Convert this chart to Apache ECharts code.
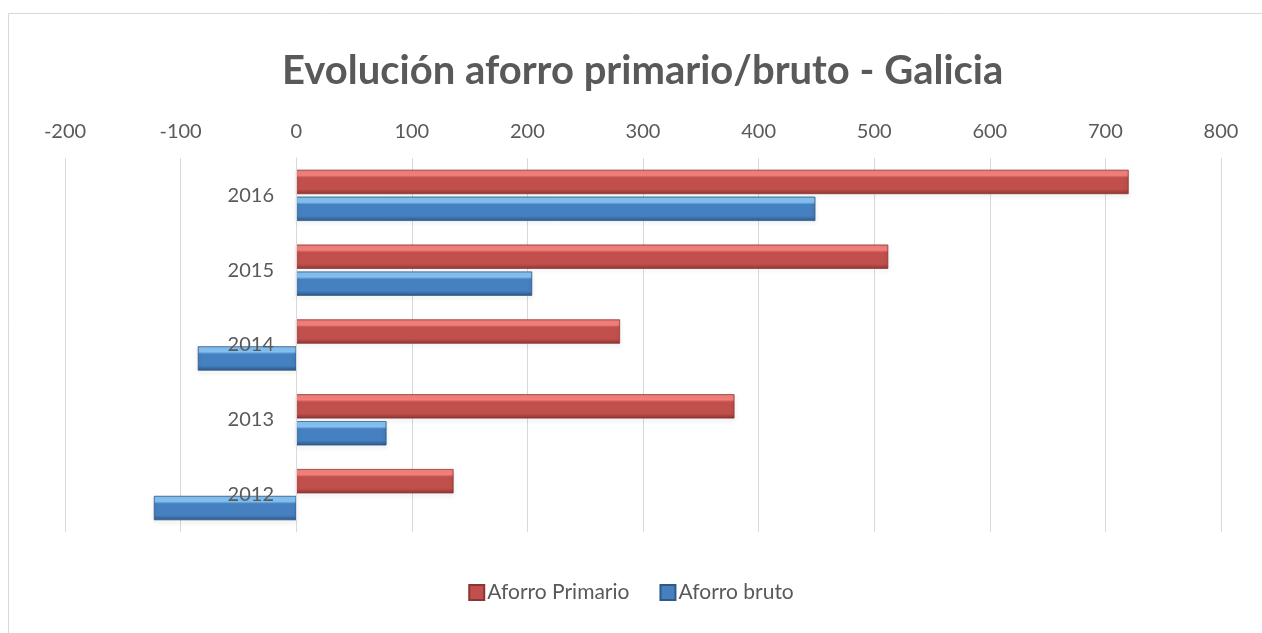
<!DOCTYPE html>
<html>
<head>
<meta charset="utf-8">
<style>
  html, body { margin: 0; padding: 0; background: #fff; }
  #chart { width: 1262px; height: 633px; }
</style>
<script src="https://cdn.jsdelivr.net/npm/echarts@6/dist/echarts.min.js"></script>
</head>
<body>
<div id="chart"></div>
<script>
  // data
  const years = ['2012', '2013', '2014', '2015', '2016']
  const aforroPrimario = [136, 379, 280, 512, 720]
  const aforroBruto = [-123, 78, -85, 204, 449]

  const font = 'Lato, "Open Sans", sans-serif'
  const grey = '#595959'

  function bevel (light, mid, dark) {
    return new echarts.graphic.LinearGradient(0, 0, 0, 1, [
      { offset: 0, color: light },
      { offset: 0.22, color: light },
      { offset: 0.32, color: mid },
      { offset: 0.8, color: mid },
      { offset: 1, color: dark }
    ])
  }

  const redFill = bevel('#f7817d', '#c14f4b', '#8e3836')
  const blueFill = bevel('#86c3f3', '#4580c0', '#30598a')

  // grid spans -200..800 over 1156px, so the zero line sits 231px in from the left
  const zeroOffset = -231

  const myChart = echarts.init(document.getElementById('chart'))
  myChart.setOption({
    textStyle: { fontFamily: font },
    title: {
      text: 'Evolución aforro primario/bruto - Galicia',
      left: 277,
      top: 46,
      textStyle: { color: grey, fontSize: 40, fontWeight: 'bold', fontFamily: font }
    },
    graphic: [{
      type: 'rect',
      shape: { x: 8.5, y: 13.5, width: 1400, height: 800 },
      style: { fill: 'none', stroke: '#d9d9d9', lineWidth: 1 },
      silent: true
    }],
    legend: {
      bottom: 25,
      left: 'center',
      itemWidth: 15,
      itemHeight: 15,
      itemGap: 30,
      icon: 'rect',
      textStyle: { color: grey, fontSize: 21, padding: [0, 0, 0, -2] },
      data: [
        { name: 'Aforro Primario', itemStyle: { color: '#c14f4b' } },
        { name: 'Aforro bruto', itemStyle: { color: '#4580c0' } }
      ]
    },
    grid: { left: 65, right: 41, top: 158, bottom: 101 },
    xAxis: {
      type: 'value',
      position: 'top',
      min: -200,
      max: 800,
      interval: 100,
      axisLine: { show: false },
      axisTick: { show: false },
      axisLabel: { color: grey, fontSize: 20, margin: 16 },
      splitLine: { lineStyle: { color: '#d9d9d9', width: 1 } }
    },
    yAxis: {
      type: 'category',
      data: years,
      z: 5,
      offset: zeroOffset,
      axisLine: { show: true, onZero: false, lineStyle: { color: '#d9d9d9', width: 1 } },
      axisTick: { show: false },
      axisLabel: { color: grey, fontSize: 20, margin: 22 }
    },
    series: [
      {
        name: 'Aforro Primario',
        type: 'bar',
        data: aforroPrimario,
        barWidth: 24,
        barGap: '12%',
        itemStyle: {
          color: redFill,
          borderColor: '#8a3634',
          borderWidth: 0.5,
          shadowColor: 'rgba(0,0,0,0.3)',
          shadowBlur: 4,
          shadowOffsetY: 2
        }
      },
      {
        name: 'Aforro bruto',
        type: 'bar',
        data: aforroBruto,
        barWidth: 24,
        barGap: '12%',
        itemStyle: {
          color: blueFill,
          borderColor: '#2f5a88',
          borderWidth: 0.5,
          shadowColor: 'rgba(0,0,0,0.3)',
          shadowBlur: 4,
          shadowOffsetY: 2
        }
      }
    ]
  })
</script>
</body>
</html>
